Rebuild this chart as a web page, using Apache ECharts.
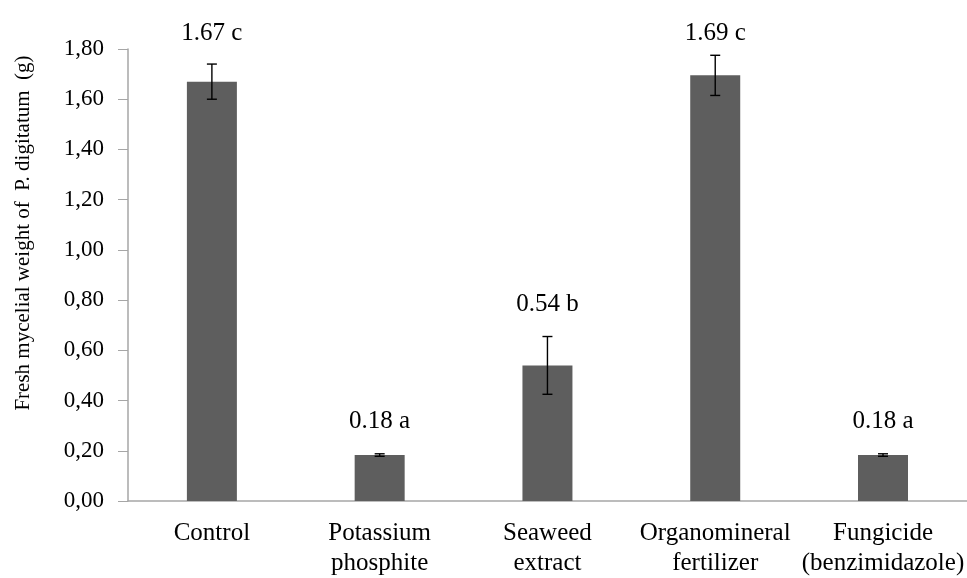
<!DOCTYPE html>
<html>
<head>
<meta charset="utf-8">
<script src="https://cdn.jsdelivr.net/npm/echarts@6/dist/echarts.min.js"></script>
<style>
html,body{margin:0;padding:0;background:#fff;}
#chart{width:967px;height:578px;}
</style>
</head>
<body>
<div id="chart"></div>
<script>
const categories = ['Control', 'Potassium\nphosphite', 'Seaweed\nextract', 'Organomineral\nfertilizer', 'Fungicide\n(benzimidazole)'];
const means = [1.67, 0.183, 0.54, 1.695, 0.183];
const errors = [0.07, 0.005, 0.115, 0.08, 0.005];
const barLabels = ['1.67 c', '0.18 a', '0.54 b', '1.69 c', '0.18 a'];
const yMin = 0, yMax = 1.8, yInterval = 0.2;
const yTitle = 'Fresh mycelial weight of  P. digitatum  (g)';

const FONT = '"Liberation Serif", "Times New Roman", serif';
const chart = echarts.init(document.getElementById('chart'));

const errData = means.map((m, i) => [i, m, errors[i]]);

chart.setOption({
  animation: false,
  backgroundColor: '#fff',
  grid: { left: 128, width: 841, top: 49, bottom: 75 },
  graphic: [{
    type: 'text',
    x: 23, y: 233,
    rotation: Math.PI / 2,
    style: {
      text: yTitle,
      font: '21px ' + FONT,
      fill: '#000',
      align: 'center',
      verticalAlign: 'middle'
    }
  }],
  xAxis: {
    type: 'category',
    data: categories,
    axisLine: { lineStyle: { color: '#a6a6a6', width: 1.5 } },
    axisTick: { inside: true, length: 8, lineStyle: { color: '#a6a6a6' } },
    axisLabel: {
      color: '#000', fontFamily: FONT, fontSize: 25, lineHeight: 30,
      margin: 17, verticalAlign: 'top', interval: 0
    }
  },
  yAxis: {
    type: 'value',
    min: yMin, max: yMax, interval: yInterval,
    axisLine: { show: true, lineStyle: { color: '#a6a6a6', width: 1.5 } },
    axisTick: { show: true, inside: false, length: 10, lineStyle: { color: '#a6a6a6' } },
    splitLine: { show: false },
    axisLabel: {
      color: '#000', fontFamily: FONT, fontSize: 23, margin: 24,
      formatter: v => v.toFixed(2).replace('.', ',')
    }
  },
  series: [{
    type: 'bar',
    data: means,
    barWidth: 50,
    itemStyle: { color: '#5e5e5e' }
  }, {
    type: 'custom',
    data: errData,
    z: 10,
    renderItem: function (params, api) {
      const i = api.value(0), m = api.value(1), e = api.value(2);
      const hi = api.coord([i, m + e]);
      const lo = api.coord([i, m - e]);
      const x = hi[0];
      const cap = 5;
      const ly = Math.max(hi[1] - 32, 33);
      const st = { stroke: '#000', lineWidth: 1.4 };
      return {
        type: 'group',
        children: [
          { type: 'line', shape: { x1: x, y1: hi[1], x2: x, y2: lo[1] }, style: st },
          { type: 'line', shape: { x1: x - cap, y1: hi[1], x2: x + cap, y2: hi[1] }, style: st },
          { type: 'line', shape: { x1: x - cap, y1: lo[1], x2: x + cap, y2: lo[1] }, style: st },
          { type: 'text', x: x, y: ly, style: {
              text: barLabels[params.dataIndex], font: '25px ' + FONT, fill: '#000',
              align: 'center', verticalAlign: 'middle' } }
        ]
      };
    }
  }]
});
</script>
</body>
</html>
